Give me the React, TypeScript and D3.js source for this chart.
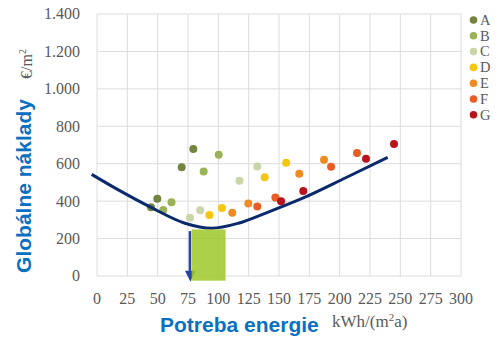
import React from "react";
import * as d3 from "d3";

const xTicks = [0, 25, 50, 75, 100, 125, 150, 175, 200, 225, 250, 275, 300];
const yTicks = [0, 200, 400, 600, 800, 1000, 1200, 1400];
const yTickLabels = ["0", "200", "400", "600", "800", "1.000", "1.200", "1.400"];

const categories = ["A", "B", "C", "D", "E", "F", "G"];
const catColors = ["#74833f", "#9ab356", "#c9d5a8", "#f5c60f", "#f08a22", "#ea5c25", "#b9141d"];

const seriesX = [
  [79.4, 69.8, 49.7, 44.5],
  [100.3, 87.9, 61.4, 54.6],
  [132.1, 117.4, 76.6, 85.1],
  [92.6, 103, 155.9, 138.2],
  [111.5, 124.7, 166.7, 187.1],
  [132.1, 147, 192.9, 214.3],
  [151.7, 170, 221.7, 244.8],
];
const seriesY = [
  [679, 581, 413, 367],
  [648, 558, 394, 353],
  [585, 509, 311, 352],
  [326, 363, 605, 528],
  [338, 387, 547, 621],
  [371, 419, 584, 657],
  [399, 454, 627, 705],
];

const curveX = [-4.4, 17.6, 45, 72.5, 94.5, 116.5, 138.5, 170, 205, 239.6];
const curveY = [543, 460, 365, 282, 255, 282, 335, 417, 525, 634];

const bandX = [78, 106];
const bandY = [249, -25];
const arrowX = 76.6;
const arrowY = [240, -31];

export default function App() {
  const x = d3.scaleLinear().domain([0, 300]).range([97, 461]);
  const y = d3.scaleLinear().domain([0, 1400]).range([276, 14]);

  const pts: [number, number][] = curveX.map((v, i) => [v, curveY[i]]);
  const line = d3
    .line<[number, number]>()
    .x((d) => x(d[0]))
    .y((d) => y(d[1]))
    .curve(d3.curveMonotoneX);

  const grid = "#dcdcdc";
  const tickColor = "#595959";
  const serif = "'Liberation Serif', 'Times New Roman', serif";
  const sans = "'Liberation Sans', Arial, sans-serif";
  const blue = "#0a70c2";

  const ax = x(arrowX);
  const ay0 = y(arrowY[0]);
  const ay1 = y(arrowY[1]);

  return (
    <svg
      width={499}
      height={349}
      style={{ position: "absolute", left: 0, top: 0, background: "#fff" }}
    >
      <rect x={0} y={0} width={499} height={349} fill="#fff" />
      {xTicks.map((t) => (
        <line key={"gx" + t} x1={x(t)} x2={x(t)} y1={y(0)} y2={y(1400)} stroke={grid} strokeWidth={1} />
      ))}
      {yTicks.map((t) => (
        <line key={"gy" + t} x1={x(0)} x2={x(300)} y1={y(t)} y2={y(t)} stroke={grid} strokeWidth={1} />
      ))}
      {xTicks.map((t) => (
        <text key={"tx" + t} x={x(t)} y={304} textAnchor="middle" fontFamily={serif} fontSize={16} fill={tickColor}>
          {t}
        </text>
      ))}
      {yTicks.map((t, i) => (
        <text key={"ty" + t} x={80} y={y(t) + 5.4} textAnchor="end" fontFamily={serif} fontSize={16} fill={tickColor}>
          {yTickLabels[i]}
        </text>
      ))}

      {seriesX.map((xs, si) =>
        xs.map((v, j) => (
          <circle key={"p" + si + "-" + j} cx={x(v)} cy={y(seriesY[si][j])} r={4} fill={catColors[si]} />
        ))
      )}

      <path d={line(pts) || ""} fill="none" stroke="#0b2a6e" strokeWidth={3} />

      <line x1={ax} x2={ax} y1={ay0} y2={ay1 - 8} stroke="#2346a6" strokeWidth={2.5} />
      <polygon points={`${ax - 5},${ay1 - 11} ${ax + 5.5},${ay1 - 11} ${ax + 0.5},${ay1}`} fill="#2346a6" />
      <rect
        x={x(bandX[0])}
        y={y(bandY[0])}
        width={x(bandX[1]) - x(bandX[0])}
        height={y(bandY[1]) - y(bandY[0])}
        fill="#9fc82c"
        opacity={0.85}
      />

      {categories.map((c, i) => (
        <g key={"lg" + c}>
          <circle cx={473.5} cy={20 + i * 15.8} r={3.8} fill={catColors[i]} />
          <text x={480} y={20 + i * 15.8 + 4.8} fontFamily={serif} fontSize={14.5} fill={tickColor}>
            {c}
          </text>
        </g>
      ))}

      <text
        transform="translate(31,186) rotate(-90)"
        textAnchor="middle"
        fontFamily={sans}
        fontWeight="bold"
        fontSize={21}
        fill={blue}
      >
        Globálne náklady
      </text>
      <text transform="translate(32,79) rotate(-90)" fontFamily={serif} fontSize={16} fill={tickColor}>
        €/m<tspan dy={-6} fontSize={10}>2</tspan>
      </text>

      <text x={160} y={331.5} fontFamily={sans} fontWeight="bold" fontSize={21} fill={blue}>
        Potreba energie
      </text>
      <text x={332} y={326.5} fontFamily={serif} fontSize={17} fill={tickColor}>
        kWh/(m<tspan dy={-6} fontSize={11}>2</tspan>
        <tspan dy={6}>a)</tspan>
      </text>
    </svg>
  );
}
